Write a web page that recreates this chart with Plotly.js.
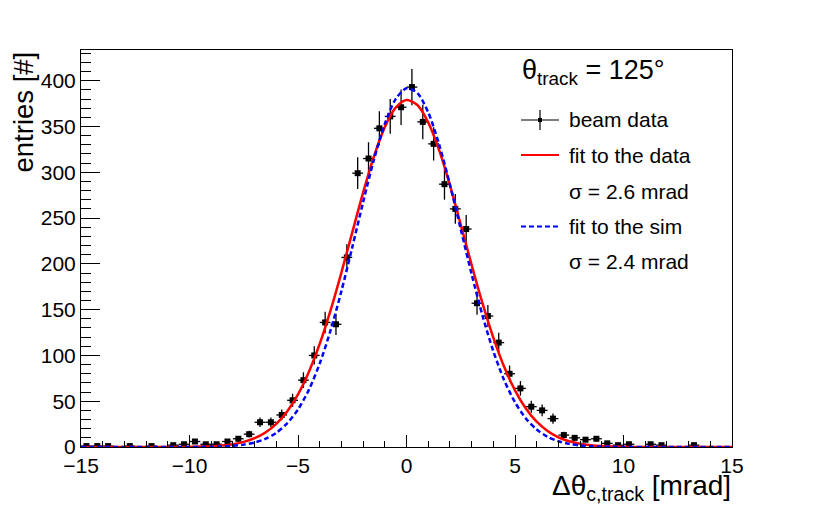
<!DOCTYPE html>
<html>
<head>
<meta charset="utf-8">
<script src="https://cdn.plot.ly/plotly-3.0.1.min.js"></script>
<style>html,body{margin:0;padding:0;background:#fff;}#chart{width:814px;height:508px;}</style>
</head>
<body>
<div id="chart"></div>
<script>
// ---- data ----
const binCenters = [-14.75,-14.25,-13.75,-12.75,-11.75,-10.75,-10.25,-9.75,-9.25,-8.75,-8.25,-7.75,-7.25,-6.75,-6.25,-5.75,-5.25,-4.75,-4.25,-3.75,-3.25,-2.75,-2.25,-1.75,-1.25,-0.75,-0.25,0.25,0.75,1.25,1.75,2.25,2.75,3.25,3.75,4.25,4.75,5.25,5.75,6.25,6.75,7.25,7.75,8.25,8.75,9.25,9.75,10.25,11.25,11.75,13.25];
const counts = [1,1,1,1,1,2,3,6,3,3,6,9,14,27,27,35,51,73,100,136,134,207,299,315,348,361,371,393,355,331,287,260,238,157,143,114,80,64,44,40,31,13,10,8,9,4,2,3,3,2,2];
const binHalfWidth = 0.25;

const fitX = [-15,-14.5,-14,-13.5,-13,-12.5,-12,-11.5,-11,-10.5,-10,-9.5,-9,-8.5,-8,-7.5,-7,-6.5,-6,-5.5,-5,-4.5,-4,-3.5,-3,-2.5,-2,-1.5,-1,-0.5,0,0.5,1,1.5,2,2.5,3,3.5,4,4.5,5,5.5,6,6.5,7,7.5,8,8.5,9,9.5,10,10.5,11,11.5,12,12.5,13,13.5,14,14.5,15];
const fitData = [0,0,0,0,0,0,0,0,0,0,0.2,0.45,0.9,1.7,3.1,5.6,9.6,15.9,25.3,38.8,57.5,82,112.6,149.2,190.5,234.3,277.7,317.3,349.3,370.6,379,373.4,354.5,324.4,286,243,199,157,119.5,87.6,61.9,42.1,27.6,17.5,10.6,6.25,3.5,1.9,1.0,0.5,0.25,0,0,0,0,0,0,0,0,0,0];
const fitSim = [0,0,0,0,0,0,0,0,0,0,0,0.1,0.3,0.6,1.3,2.6,4.9,8.9,15.5,25.8,41,62.4,91.1,127.3,170.2,218,267.3,313.9,352.8,379.9,391.7,386.6,365.4,330.7,286.6,237.8,188.9,143.7,104.7,73,48.8,31.2,19.1,11.2,6.3,3.4,1.7,0.8,0.4,0.2,0,0,0,0,0,0,0,0,0,0,0];

const xTickVals = [-15,-10,-5,0,5,10,15];
const yTickVals = [0,50,100,150,200,250,300,350,400];

const legendTitle = "θ<sub>track</sub> = 125°";
const legendLabels = ["beam data","fit to the data","σ = 2.6 mrad","fit to the sim","σ = 2.4 mrad"];
const xTitle = "Δθ<sub>c,track</sub> [mrad]";
const yTitle = "entries [#]";

// ---- layout geometry (pixels) ----
const W = 814, H = 508;
const L = 81, R = 732, T = 50, B = 447;
const px = x => (x - L) / (R - L);
const py = y => (B - y) / (B - T);
const FONT = "Liberation Sans, Arial, Helvetica, sans-serif";

const traces = [
  {
    x: binCenters, y: counts, type: 'scatter', mode: 'markers',
    marker: {symbol: 'square', size: 6, color: 'black'},
    error_y: {type: 'data', array: counts.map(Math.sqrt), color: 'black', thickness: 1.3, width: 0},
    error_x: {type: 'constant', value: binHalfWidth, color: 'black', thickness: 1.3, width: 0},
    showlegend: false, hoverinfo: 'x+y'
  },
  {
    x: fitX, y: fitData, type: 'scatter', mode: 'lines',
    line: {color: '#ff0000', width: 2.5, shape: 'spline', smoothing: 0.8},
    showlegend: false
  },
  {
    x: fitX, y: fitSim, type: 'scatter', mode: 'lines',
    line: {color: '#0000ff', width: 2.5, dash: '5px,3px', shape: 'spline', smoothing: 0.8},
    showlegend: false
  }
];

const rowsY = [120, 155, 191.5, 226.5, 261.5];
const annotations = [
  {text: legendTitle, xref: 'paper', yref: 'paper', x: px(520), y: py(72), xanchor: 'left', yanchor: 'middle',
   showarrow: false, font: {family: FONT, size: 27, color: 'black'}},
  {text: xTitle, xref: 'paper', yref: 'paper', x: px(733), y: py(468), xanchor: 'right', yanchor: 'top',
   showarrow: false, font: {family: FONT, size: 28, color: 'black'}},
  {text: yTitle, xref: 'paper', yref: 'paper', x: px(23), y: py(50), xanchor: 'center', yanchor: 'top', textangle: -90,
   showarrow: false, font: {family: FONT, size: 27.5, color: 'black'}}
];
legendLabels.forEach((t, i) => {
  annotations.push({text: t, xref: 'paper', yref: 'paper', x: px(567), y: py(rowsY[i]), xanchor: 'left', yanchor: 'middle',
    showarrow: false, font: {family: FONT, size: 21, color: 'black'}});
});

const shapes = [
  // beam data symbol
  {type: 'line', xref: 'paper', yref: 'paper', x0: px(521), x1: px(559), y0: py(rowsY[0]), y1: py(rowsY[0]), line: {color: 'black', width: 1.2}},
  {type: 'line', xref: 'paper', yref: 'paper', x0: px(540), x1: px(540), y0: py(rowsY[0] - 10), y1: py(rowsY[0] + 10), line: {color: 'black', width: 1.2}},
  {type: 'rect', xref: 'paper', yref: 'paper', x0: px(538), x1: px(542), y0: py(rowsY[0] - 2), y1: py(rowsY[0] + 2), line: {width: 0}, fillcolor: 'black'},
  // fit to data
  {type: 'line', xref: 'paper', yref: 'paper', x0: px(521), x1: px(559), y0: py(rowsY[1]), y1: py(rowsY[1]), line: {color: '#ff0000', width: 2}},
  // fit to sim
  {type: 'line', xref: 'paper', yref: 'paper', x0: px(521), x1: px(559), y0: py(rowsY[3]), y1: py(rowsY[3]), line: {color: '#0000ff', width: 2, dash: '5px,3px'}}
];

const axisCommon = {
  showgrid: false, zeroline: false, showline: true, mirror: true, linecolor: 'black', linewidth: 1,
  ticks: 'inside', tickcolor: 'black', tickwidth: 1,
  tickfont: {family: FONT, size: 21, color: 'black'}
};

const layout = {
  width: W, height: H,
  margin: {l: L, r: W - R, t: T, b: H - B, pad: 0},
  paper_bgcolor: 'white', plot_bgcolor: 'white',
  showlegend: false,
  xaxis: Object.assign({}, axisCommon, {
    range: [-15, 15], tickmode: 'array', tickvals: xTickVals, ticktext: xTickVals.map(v => v < 0 ? '\u2212' + Math.abs(v) : String(v)),
    ticklen: 12,
    minor: {ticks: 'inside', ticklen: 6, dtick: 1, tick0: 0, tickcolor: 'black', tickwidth: 1, showgrid: false}
  }),
  yaxis: Object.assign({}, axisCommon, {
    range: [0, 433.5], tickmode: 'array', tickvals: yTickVals, ticktext: yTickVals.map(String),
    ticklen: 19,
    minor: {ticks: 'inside', ticklen: 10, dtick: 10, tick0: 0, tickcolor: 'black', tickwidth: 1, showgrid: false}
  }),
  annotations: annotations,
  shapes: shapes
};

Plotly.newPlot('chart', traces, layout, {staticPlot: true, displayModeBar: false});
</script>
</body>
</html>
